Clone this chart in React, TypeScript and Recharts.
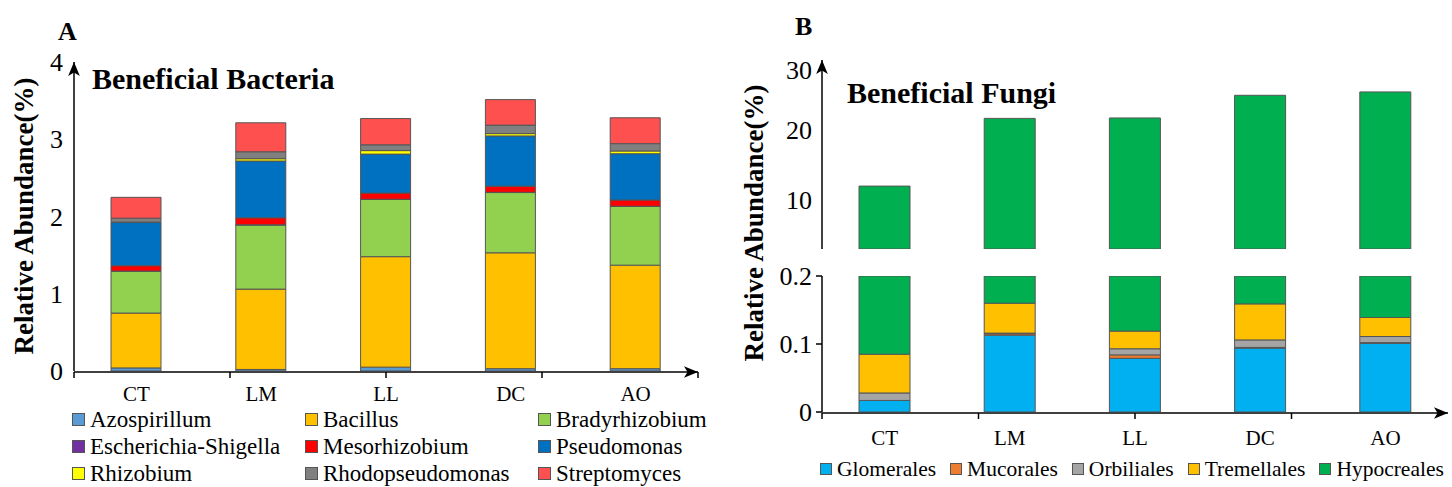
import React from 'react';
import { BarChart, Bar, XAxis, YAxis, Legend } from 'recharts';

// ---------- data ----------
const categories = ['CT', 'LM', 'LL', 'DC', 'AO'];

// Beneficial bacteria (relative abundance, %)
const azospirillum = [0.04, 0.02, 0.05, 0.03, 0.03];
const bacillus = [0.71, 1.04, 1.43, 1.5, 1.34];
const bradyrhizobium = [0.54, 0.83, 0.74, 0.78, 0.76];
const escherichiaShigella = [0.003, 0.003, 0.003, 0.003, 0.003];
const mesorhizobium = [0.07, 0.09, 0.08, 0.08, 0.08];
const pseudomonas = [0.56, 0.735, 0.505, 0.65, 0.6];
const rhizobium = [0.005, 0.03, 0.045, 0.03, 0.035];
const rhodopseudomonas = [0.05, 0.09, 0.075, 0.11, 0.095];
const streptomyces = [0.27, 0.375, 0.34, 0.33, 0.335];

const bacteriaNames = [
  'Azospirillum', 'Bacillus', 'Bradyrhizobium',
  'Escherichia-Shigella', 'Mesorhizobium', 'Pseudomonas',
  'Rhizobium', 'Rhodopseudomonas', 'Streptomyces',
];
const bacteriaColors = [
  '#5B9BD5', '#FFC000', '#92D050',
  '#7030A0', '#FF0000', '#0070C0',
  '#FFFF00', '#808080', '#FF5050',
];
const bacteriaValues = [
  azospirillum, bacillus, bradyrhizobium,
  escherichiaShigella, mesorhizobium, pseudomonas,
  rhizobium, rhodopseudomonas, streptomyces,
];
const bacteriaTicks = [0, 1, 2, 3, 4];

// Beneficial fungi (relative abundance, %)
const glomerales = [0.017, 0.113, 0.079, 0.094, 0.101];
const mucorales = [0, 0.002, 0.005, 0.001, 0.001];
const orbiliales = [0.011, 0.001, 0.009, 0.011, 0.009];
const tremellales = [0.057, 0.044, 0.026, 0.053, 0.028];
const hypocreales = [11.9, 21.5, 21.6, 24.8, 25.3];

const fungiNames = ['Glomerales', 'Mucorales', 'Orbiliales', 'Tremellales', 'Hypocreales'];
const fungiColors = ['#00B0F0', '#ED7D31', '#A5A5A5', '#FFC000', '#00B050'];
const fungiValues = [glomerales, mucorales, orbiliales, tremellales, hypocreales];
const fungiUpperTicks = [10, 20, 30];
const fungiLowerTicks = [0, 0.1, 0.2];

const boundaryTicks = [0, 1, 2, 3, 4, 5];

const bacteriaData = categories.map((c, i) => {
  const row: any = { cat: c };
  bacteriaNames.forEach((n, k) => { row[n] = bacteriaValues[k][i]; });
  return row;
});
const fungiData = categories.map((c, i) => {
  const row: any = { cat: c };
  fungiNames.forEach((n, k) => { row[n] = fungiValues[k][i]; });
  return row;
});

// ---------- styles ----------
const FONT = '"Liberation Serif", "Times New Roman", Times, serif';
const BAR_STROKE = '#555';
const axisLineStyle = (marker: 'start' | 'end') =>
  marker === 'start'
    ? { stroke: '#000', strokeWidth: 1.5, markerStart: 'url(#arrowHead)' }
    : { stroke: '#000', strokeWidth: 1.5, markerEnd: 'url(#arrowHead)' };

const BacteriaLegend = () => (
  <div style={{ display: 'grid', gridTemplateColumns: '233px 233px 233px', paddingLeft: 72, fontFamily: FONT }}>
    {bacteriaNames.map((n, k) => (
      <div key={n} style={{ display: 'flex', alignItems: 'center', height: 27, fontFamily: FONT, fontSize: 23, lineHeight: '27px', color: '#000', whiteSpace: 'nowrap' }}>
        <span style={{ display: 'inline-block', width: 11, height: 11, background: bacteriaColors[k], border: '1px solid #555', marginRight: 5 }} />
        <span style={{ fontFamily: FONT }}>{n}</span>
      </div>
    ))}
  </div>
);

const FungiLegend = () => (
  <div style={{ display: 'flex', fontFamily: FONT }}>
    {fungiNames.map((n, k) => (
      <div key={n} style={{ display: 'flex', alignItems: 'center', height: 26, fontFamily: FONT, fontSize: 21.5, lineHeight: '26px', color: '#000', whiteSpace: 'nowrap', marginRight: 14 }}>
        <span style={{ display: 'inline-block', width: 10, height: 10, background: fungiColors[k], border: '1px solid #555', marginRight: 5 }} />
        <span style={{ fontFamily: FONT }}>{n}</span>
      </div>
    ))}
  </div>
);

const UpperTick = (props: any) => {
  const { x, y, payload } = props;
  const shift = payload.value === 30 ? 10 : 0;
  return (
    <text x={x} y={y + shift} dy="0.355em" textAnchor="end" fontSize={26} fill="#000" fontFamily={FONT}>
      {payload.value}
    </text>
  );
};

export default function App() {
  return (
    <div style={{ position: 'absolute', left: 0, top: 0, width: 1452, height: 487, overflow: 'hidden', background: '#fff', fontFamily: FONT }}>
      {/* Panel A */}
      <div style={{ position: 'absolute', left: 0, top: 0 }}>
        <BarChart width={720} height={487} data={bacteriaData} margin={{ top: 62, right: 22, bottom: 114, left: 73 }} barSize={50}>
          <XAxis xAxisId="num" type="number" domain={[0, 5]} ticks={boundaryTicks} allowDataOverflow height={1}
            axisLine={axisLineStyle('end')} tickLine={{ stroke: '#000', strokeWidth: 1.5 }} tickSize={6} tickFormatter={() => ''} />
          <XAxis xAxisId="cat" dataKey="cat" height={1} axisLine={false} tickLine={false} tickSize={0} tickMargin={15} interval={0}
            tick={{ fontSize: 21, fill: '#000', fontFamily: FONT }} />
          <YAxis width={1} domain={[0, 4]} ticks={bacteriaTicks} allowDataOverflow axisLine={axisLineStyle('start')}
            tickLine={false} tickSize={0} tickMargin={11} tick={{ fontSize: 26, fill: '#000', fontFamily: FONT }} />
          {bacteriaNames.map((n, k) => (
            <Bar key={n} xAxisId="cat" dataKey={n} stackId="a" fill={bacteriaColors[k]} stroke={BAR_STROKE} strokeWidth={1} isAnimationActive={false} />
          ))}
          <Legend layout="horizontal" verticalAlign="middle" align="center" content={<BacteriaLegend />}
            wrapperStyle={{ top: 406, left: 0, width: 720, bottom: 'auto' }} />
        </BarChart>
      </div>

      {/* Panel B, upper part of broken axis */}
      <div style={{ position: 'absolute', left: 730, top: 0 }}>
        <BarChart width={722} height={260} data={fungiData} margin={{ top: 60, right: 4, bottom: 11, left: 91 }} barSize={51}>
          <XAxis dataKey="cat" hide />
          <YAxis width={1} domain={[3, 30]} ticks={fungiUpperTicks} allowDataOverflow axisLine={axisLineStyle('start')}
            tickLine={false} tickSize={0} tickMargin={10} tick={<UpperTick />} />
          {fungiNames.map((n, k) => (
            <Bar key={n} dataKey={n} stackId="f" fill={fungiColors[k]} stroke={BAR_STROKE} strokeWidth={1} isAnimationActive={false} />
          ))}
        </BarChart>
      </div>

      {/* Panel B, lower part of broken axis */}
      <div style={{ position: 'absolute', left: 730, top: 0 }}>
        <BarChart width={722} height={487} data={fungiData} margin={{ top: 276, right: 4, bottom: 73, left: 91 }} barSize={51}>
          <XAxis xAxisId="num" type="number" domain={[0, 5]} ticks={boundaryTicks} allowDataOverflow height={1}
            axisLine={axisLineStyle('end')} tickLine={{ stroke: '#000', strokeWidth: 1.5 }} tickSize={6} tickFormatter={() => ''} />
          <XAxis xAxisId="cat" dataKey="cat" height={1} axisLine={false} tickLine={false} tickSize={0} tickMargin={18} interval={0}
            tick={{ fontSize: 21, fill: '#000', fontFamily: FONT }} />
          <YAxis width={1} domain={[0, 0.2]} ticks={fungiLowerTicks} allowDataOverflow axisLine={{ stroke: '#000', strokeWidth: 1.5 }}
            tickLine={{ stroke: '#000', strokeWidth: 1.5 }} tickSize={6} tickMargin={4}
            tickFormatter={(v: number) => (v === 0 ? '0' : String(v))}
            tick={{ fontSize: 26, fill: '#000', fontFamily: FONT }} />
          {fungiNames.map((n, k) => (
            <Bar key={n} xAxisId="cat" dataKey={n} stackId="f" fill={fungiColors[k]} stroke={BAR_STROKE} strokeWidth={1} isAnimationActive={false} />
          ))}
          <Legend layout="horizontal" verticalAlign="middle" align="center" content={<FungiLegend />}
            wrapperStyle={{ top: 456, left: 90, width: 632, bottom: 'auto' }} />
        </BarChart>
      </div>

      {/* Titles, panel letters, axis titles, arrow marker */}
      <svg width={1452} height={487} style={{ position: 'absolute', left: 0, top: 0, pointerEvents: 'none' }}>
        <defs>
          <marker id="arrowHead" viewBox="0 0 12 10" refX="12" refY="5" markerWidth="14" markerHeight="12"
            markerUnits="userSpaceOnUse" orient="auto-start-reverse">
            <path d="M0,0 L12,5 L0,10 L3,5 Z" fill="#000" />
          </marker>
        </defs>
        <text x={58} y={40} fontSize={26} fontWeight="bold" fontFamily={FONT}>A</text>
        <text x={795} y={35} fontSize={26} fontWeight="bold" fontFamily={FONT}>B</text>
        <text x={92} y={89} fontSize={30} fontWeight="bold" fontFamily={FONT}>Beneficial Bacteria</text>
        <text x={847} y={103} fontSize={30} fontWeight="bold" fontFamily={FONT}>Beneficial Fungi</text>
        <text x={33} y={216} fontSize={27} fontWeight="bold" fontFamily={FONT} textAnchor="middle" transform="rotate(-90, 33, 216)">Relative Abundance(%)</text>
        <text x={763} y={223} fontSize={27} fontWeight="bold" fontFamily={FONT} textAnchor="middle" transform="rotate(-90, 763, 223)">Relative Abundance(%)</text>
      </svg>
    </div>
  );
}
